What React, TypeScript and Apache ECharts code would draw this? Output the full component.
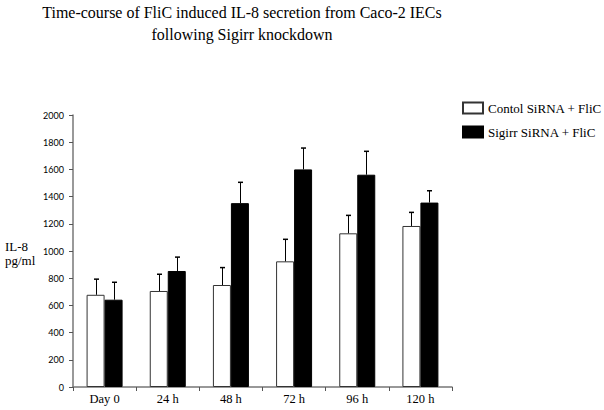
import React, { useEffect, useRef } from "react";
import * as echarts from "echarts";

const categories = ["Day 0", "24 h", "48 h", "72 h", "96 h", "120 h"];
const seriesNames = ["Contol SiRNA + FliC", "Sigirr SiRNA + FliC"];
const controlValues = [678, 706, 750, 924, 1130, 1184];
const controlErrors = [115, 123, 128, 162, 132, 100];
const sigirrValues = [642, 853, 1352, 1600, 1561, 1356];
const sigirrErrors = [128, 102, 153, 157, 172, 87];
const yTicks = { min: 0, max: 2000, interval: 200 };
const titleLines = [
  "Time-course of FliC induced IL-8 secretion from Caco-2 IECs",
  "following Sigirr knockdown",
];

const FONT = "'Liberation Serif', 'Times New Roman', serif";
const TICK_FONT = "Lato, 'Open Sans', sans-serif";
const BAR_WIDTH = 18;

function errorSeries(values: number[], errors: number[], offset: number) {
  return {
    type: "custom",
    z: 5,
    silent: true,
    data: values.map((v, i) => [i, v, errors[i]]),
    encode: { x: 0, y: 1 },
    renderItem: (_params: any, api: any) => {
      const idx = api.value(0);
      const v = api.value(1);
      const e = api.value(2);
      const base = api.coord([idx, v]);
      const top = api.coord([idx, v + e]);
      const cx = Math.round(base[0] + offset) + 0.5;
      return {
        type: "group",
        children: [
          {
            type: "line",
            shape: { x1: cx, y1: base[1], x2: cx, y2: top[1] },
            style: { stroke: "#000", lineWidth: 1 },
          },
          {
            type: "line",
            shape: { x1: cx - 2.5, y1: top[1], x2: cx + 2.5, y2: top[1] },
            style: { stroke: "#000", lineWidth: 1.5 },
          },
        ],
      };
    },
  };
}

export default function App() {
  const ref = useRef<HTMLDivElement>(null);
  useEffect(() => {
    if (!ref.current) return;
    const chart = echarts.init(ref.current, null, { renderer: "svg" });
    chart.setOption({
      animation: false,
      backgroundColor: "#fff",
      legend: {
        data: seriesNames,
        orient: "vertical",
        left: 462,
        top: 100,
        padding: 0,
        itemWidth: 20,
        itemHeight: 11,
        itemGap: 8,
        icon: "rect",
        textStyle: { fontFamily: FONT, fontSize: 13, color: "#000", lineHeight: 16 },
      },
      graphic: [
        {
          type: "text",
          x: 242,
          y: 1,
          scaleX: 0.94,
          style: {
            text: titleLines.join("\n"),
            font: `17px ${FONT}`,
            fill: "#000",
            lineHeight: 22,
            textAlign: "center",
            textVerticalAlign: "top",
          },
        },
        {
          type: "text",
          x: 5,
          y: 239,
          style: {
            text: "IL-8\npg/ml",
            font: `13px ${FONT}`,
            fill: "#000",
            lineHeight: 14,
            textVerticalAlign: "top",
          },
        },
      ],
      grid: { left: 73, right: 152, top: 115, bottom: 23, containLabel: false },
      xAxis: {
        type: "category",
        data: categories,
        axisLine: { lineStyle: { color: "#777", width: 1.5 } },
        axisTick: { show: true, length: 4, lineStyle: { color: "#555" } },
        axisLabel: { fontFamily: FONT, fontSize: 12.5, color: "#000", margin: 5 },
      },
      yAxis: {
        type: "value",
        min: yTicks.min,
        max: yTicks.max,
        interval: yTicks.interval,
        splitLine: { show: false },
        axisLine: { show: true, lineStyle: { color: "#777", width: 1.5 } },
        axisTick: { show: true, length: 4, lineStyle: { color: "#555" } },
        axisLabel: {
          fontFamily: TICK_FONT,
          fontSize: 9,
          color: "#000",
          margin: 9,
          formatter: (v: number) => String(v),
        },
      },
      series: [
        {
          name: seriesNames[0],
          type: "bar",
          data: controlValues,
          barWidth: BAR_WIDTH,
          barGap: "0%",
          itemStyle: { color: "#fff", borderColor: "#333", borderWidth: 1 },
        },
        {
          name: seriesNames[1],
          type: "bar",
          data: sigirrValues,
          barWidth: BAR_WIDTH,
          barGap: "0%",
          itemStyle: { color: "#000", borderColor: "#000", borderWidth: 1 },
        },
        errorSeries(controlValues, controlErrors, -BAR_WIDTH / 2),
        errorSeries(sigirrValues, sigirrErrors, BAR_WIDTH / 2),
      ],
    });
    return () => chart.dispose();
  }, []);
  return (
    <div
      ref={ref}
      style={{ position: "fixed", left: 0, top: 0, width: 604, height: 410 }}
    />
  );
}
